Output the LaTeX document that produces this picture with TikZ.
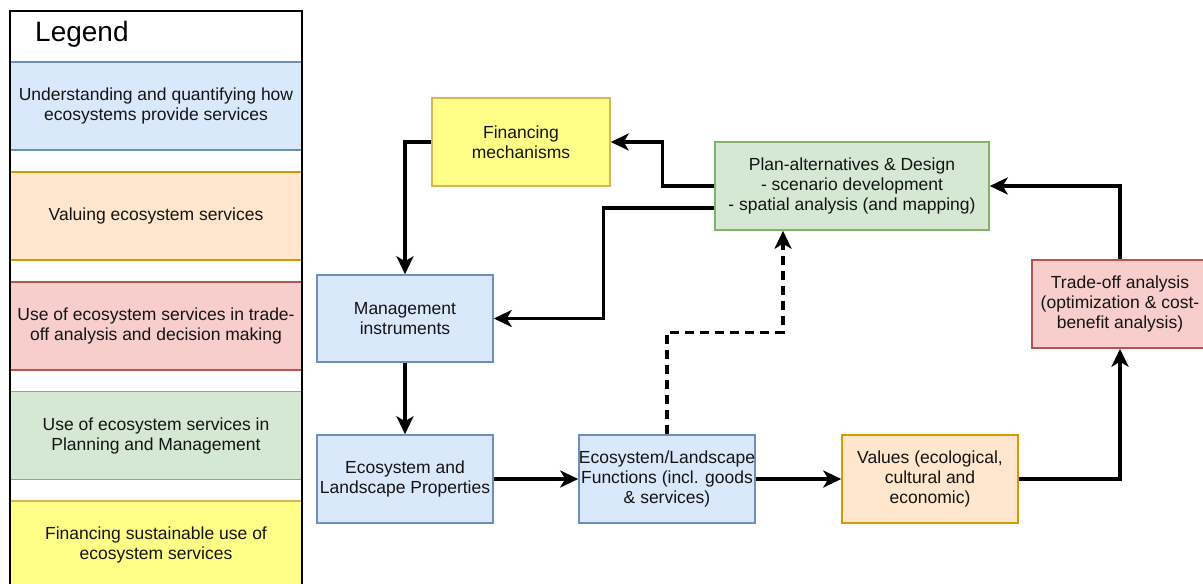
\documentclass[tikz,border=0pt]{standalone}
\usepackage{fontspec}
\setmainfont{Liberation Sans}
\usetikzlibrary{arrows.meta}
\definecolor{bfill}{HTML}{DAE8FC}\definecolor{bline}{HTML}{6C8EBF}
\definecolor{ofill}{HTML}{FFE6CC}\definecolor{oline}{HTML}{D79B00}
\definecolor{rfill}{HTML}{F8CECC}\definecolor{rline}{HTML}{B85450}
\definecolor{gfill}{HTML}{D5E8D4}\definecolor{gline}{HTML}{82B366}
\definecolor{yfill}{HTML}{FFFF88}\definecolor{yline}{HTML}{D6B656}
\definecolor{txt}{HTML}{141414}
\tikzset{
  box/.style={draw, line width=1.5pt, minimum width=176pt, minimum height=88pt, inner sep=0pt, align=center, text=txt, font=\fontsize{17.5}{20}\selectfont},
  bluebox/.style={box, fill=bfill, draw=bline},
  orangebox/.style={box, fill=ofill, draw=oline},
  redbox/.style={box, fill=rfill, draw=rline},
  greenbox/.style={box, fill=gfill, draw=gline},
  yellowbox/.style={box, fill=yfill, draw=yline},
  band/.style={minimum width=292pt, minimum height=88pt},
  arr/.style={line width=3.5pt, -{Stealth[length=18pt,width=17pt,inset=5pt]}},
  dsh/.style={dash pattern=on 9pt off 6pt}
}
\begin{document}
\begin{tikzpicture}[x=1pt,y=-1pt]
\useasboundingbox (0,0) rectangle (1203,584);
\fill[white] (0,0) rectangle (1203,584);
\clip (0,0) rectangle (1203,584);
% legend bands
\node[bluebox, band] (lb) at (156,106) {Understanding and quantifying how\\ecosystems provide services};
\node[orangebox, band] (lo) at (156,216) {Valuing ecosystem services};
\node[redbox, band] (lr) at (156,326) {Use of ecosystem services in trade-\\off analysis and decision making};
\node[greenbox, band] (lg) at (156,435.5) {Use of ecosystem services in\\Planning and Management};
\node[yellowbox, band] (ly) at (156,545) {Financing sustainable use of\\ecosystem services};
\draw[line width=2pt] (10,11) rectangle (302,620);
\node[anchor=west, inner sep=0pt, font=\fontsize{28}{32}\selectfont] (legend) at (35,34) {Legend};
% diagram boxes
\node[yellowbox, minimum width=178pt] (fin) at (521,142) {Financing\\mechanisms};
\node[greenbox, minimum width=274pt] (plan) at (852,186) {Plan-alternatives \& Design\\- scenario development\\- spatial analysis (and mapping)};
\node[bluebox, minimum height=87pt] (mgmt) at (405,318.5) {Management\\instruments};
\node[bluebox] (props) at (405,479) {Ecosystem and\\Landscape Properties};
\node[bluebox] (func) at (667,479) {Ecosystem/Landscape\\Functions (incl. goods\\\& services)};
\node[orangebox] (values) at (930,479) {Values (ecological,\\cultural and\\economic)};
\node[redbox] (trade) at (1120,304) {Trade-off analysis\\(optimization \& cost-\\benefit analysis)};
% connectors
\draw[arr] (plan.west) -- ++(-52,0) |- (fin.east);
\draw[arr] ([yshift=-22pt]plan.west) -- ++(-111,0) |- (mgmt.east);
\draw[arr] (fin.west) -| (mgmt.north);
\draw[arr] (mgmt.south) -- (props.north);
\draw[arr] (props.east) -- (func.west);
\draw[arr] (func.east) -- (values.west);
\draw[arr] (values.east) -| (trade.south);
\draw[arr] (trade.north) |- (plan.east);
\draw[arr, dsh] (func.north) -- ++(0,-102) -| ([xshift=-69pt]plan.south);
\end{tikzpicture}
\end{document}
